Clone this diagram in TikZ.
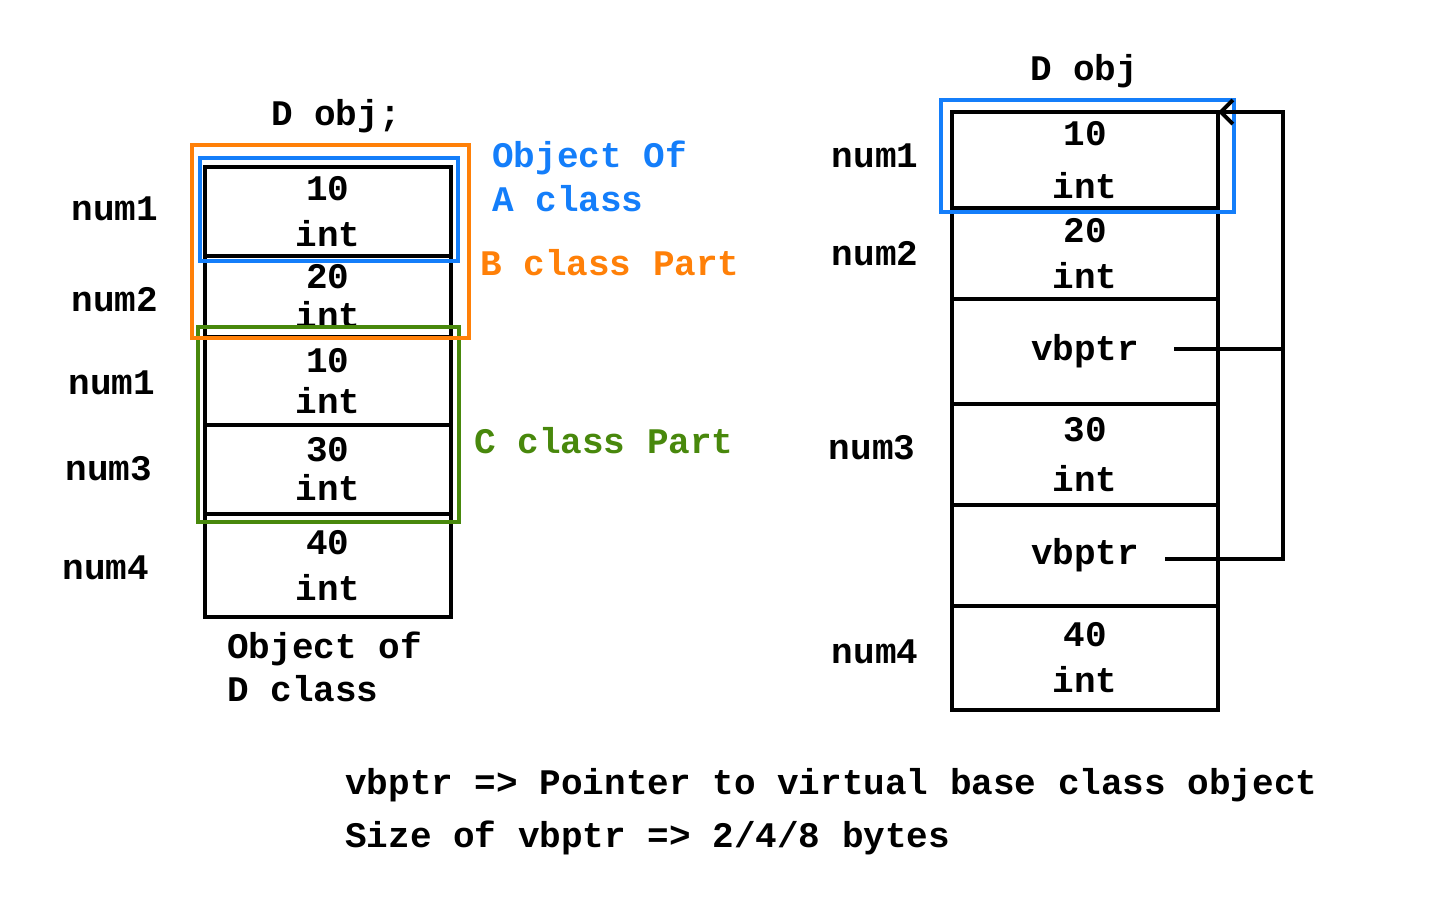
\documentclass[tikz,border=0pt]{standalone}
\usepackage{fontspec}
\setmainfont{Liberation Mono}
\usetikzlibrary{arrows.meta}
\definecolor{objblue}{RGB}{20,126,250}
\definecolor{partorange}{RGB}{255,128,8}
\definecolor{partgreen}{RGB}{72,136,12}
\frenchspacing

\tikzset{
  txt/.style={font=\fontsize{36}{46}\selectfont\bfseries, inner sep=0pt, align=center},
  cell/.style={txt, draw, line width=4pt, outer sep=0pt, minimum width=246pt},
  rcell/.style={cell, minimum width=266pt},
  part/.style={line width=4pt}
}

\begin{document}
\begin{tikzpicture}[x=1pt,y=-1pt]
\useasboundingbox (0,0) rectangle (1440,900);

% l'objet D, a gauche
\node [txt] (ltitle) at (336,116) {D obj;};

\node [cell, minimum height=89pt] (l1) at (328,211.5) {10\\int};
\node [cell, minimum height=81pt] (l2) at (328,296.5) {20\\[-7pt]int};
\node [cell, minimum height=88pt] (l3) at (328,381) {10\\[-5pt]int};
\node [cell, minimum height=89pt] (l4) at (328,469.5) {30\\[-7pt]int};
\node [cell, minimum height=103pt] (l5) at (328,565.5) {40\\int};

\node [txt] (lnum1) at (115,209) {num1};
\node [txt] (lnum2) at (115,300) {num2};
\node [txt] (lnum1b) at (112,383) {num1};
\node [txt] (lnum3) at (109,469) {num3};
\node [txt] (lnum4) at (106,568) {num4};

\node [txt, align=left, anchor=north west, font=\fontsize{36}{43}\selectfont\bfseries] (lcap) at (227,632) {Object of\\D class};

% les parties des classes
\draw [part, partgreen] (198,327) rectangle (459,522);
\draw [part, partorange] (192,145) rectangle (469,338);
\draw [part, objblue] (200,158) rectangle (458,261);

\node [txt, align=left, anchor=north west, objblue, font=\fontsize{36}{44}\selectfont\bfseries] (aobj) at (492,141) {Object Of\\A class};
\node [txt, anchor=west, partorange] (bpart) at (480,263) {B class Part};
\node [txt, anchor=west, partgreen] (cpart) at (474,441) {C class Part};

% l'objet D, a droite
\node [txt] (rtitle) at (1084,71) {D obj};

\node [rcell, minimum height=96pt] (r1) at (1085,160) {10\\[7pt]int};
\node [rcell, minimum height=91pt] (r2) at (1085,253.5) {20\\int};
\node [rcell, minimum height=105pt] (r3) at (1085,351.5) {vbptr};
\node [rcell, minimum height=101pt] (r4) at (1085,454.5) {30\\[4pt]int};
\node [rcell, minimum height=101pt] (r5) at (1085,555.5) {vbptr};
\node [rcell, minimum height=104pt] (r6) at (1085,658) {40\\int};

\node [txt] (rnum1) at (875,156) {num1};
\node [txt] (rnum2) at (875,254) {num2};
\node [txt] (rnum3) at (872,448) {num3};
\node [txt] (rnum4) at (875,652) {num4};

\draw [part, objblue] (941,100) rectangle (1234,212);

% les vbptr
\coordinate (p1) at (1174,349);
\coordinate (p2) at (1165,559);
\coordinate (rail) at (1283,112);
\draw [line width=4pt] (p1) -- (p1 -| rail);
\draw [line width=4pt, -{Straight Barb[length=12pt,width=24pt]}] (p2) -- (p2 -| rail) -- (rail) -- (r1.north east);

% la note
\node [txt, anchor=west] (note1) at (345,785) {vbptr => Pointer to virtual base class object};
\node [txt, anchor=west] (note2) at (345,838) {Size of vbptr => 2/4/8 bytes};

\end{tikzpicture}
\end{document}
